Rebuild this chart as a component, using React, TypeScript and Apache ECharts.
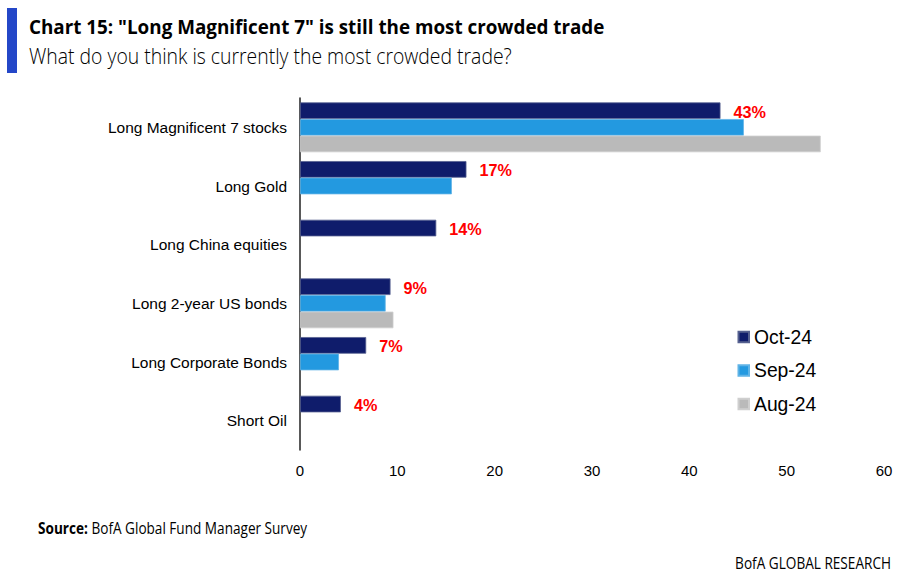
import React, { useEffect, useRef } from "react";
import * as echarts from "echarts";

// ---- data ----
const categories = [
  "Long Magnificent 7 stocks",
  "Long Gold",
  "Long China equities",
  "Long 2-year US bonds",
  "Long Corporate Bonds",
  "Short Oil",
];
const seriesNames = ["Oct-24", "Sep-24", "Aug-24"];
const oct24 = [43.2, 17.1, 14.0, 9.3, 6.8, 4.2];
const sep24 = [45.6, 15.6, null, 8.8, 4.0, null];
const aug24 = [53.5, null, null, 9.6, null, null];
const xMin = 0;
const xMax = 60;
const xInterval = 10;

const TITLE = 'Chart 15: "Long Magnificent 7" is still the most crowded trade';
const SUBTITLE = "What do you think is currently the most crowded trade?";
const SOURCE_BOLD = "Source:";
const SOURCE_TEXT = " BofA Global Fund Manager Survey";
const FOOTER = "BofA GLOBAL RESEARCH";

const NARROW = "'Liberation Sans Narrow', 'Arial Narrow', 'Liberation Sans', Arial, sans-serif";
const SANS = "'Liberation Sans', Arial, sans-serif";
const OPEN = "'Open Sans', 'Noto Sans', sans-serif";

function textWidth(text: string, font: string): number {
  const c = document.createElement("canvas").getContext("2d")!;
  c.font = font;
  return c.measureText(text).width;
}
function fitSize(text: string, weight: string, family: string, base: number, target: number) {
  return (base * target) / textWidth(text, `${weight} ${base}px ${family}`);
}

export default function App() {
  const ref = useRef<HTMLDivElement>(null);

  useEffect(() => {
    if (!ref.current) return;
    const chart = echarts.init(ref.current, null, { renderer: "svg" });

    const catSize = Math.min(18.7, fitSize(categories[0], "normal", NARROW, 18.7, 179));
    const valSize = fitSize("43%", "bold", NARROW, 19.5, 32.5);
    const tickSize = Math.min(17, fitSize("10", "normal", NARROW, 17, 16.7));
    const legSize = fitSize("Oct-24", "normal", SANS, 19, 58);

    const titleSize = 20;
    const titleScale = 576 / textWidth(TITLE, `bold ${titleSize}px ${OPEN}`);
    const subSize = 21.5;
    const subScale = 483 / textWidth(SUBTITLE, `300 ${subSize}px ${OPEN}`);
    const srcSize = 16;
    const srcScale =
      269.5 /
      (textWidth(SOURCE_BOLD, `bold ${srcSize}px ${OPEN}`) +
        textWidth(SOURCE_TEXT, `normal ${srcSize}px ${OPEN}`));
    const footSize = 17;
    const footScale = 156 / textWidth(FOOTER, `normal ${footSize}px ${OPEN}`);

    const colors = ["#0F1C6B", "#2399E0", "#BABABA"];
    const borders = ["#55608f", "#5fb3e6", "#cfcfcf"];
    const datasets = [oct24, sep24, aug24];

    chart.setOption({
      animation: false,
      textStyle: { fontFamily: SANS },
      grid: { left: 300, right: 25, top: 98, bottom: 128, containLabel: false },
      legend: {
        orient: "vertical",
        left: 737.5,
        top: 327.5,
        padding: 0,
        itemWidth: 10.5,
        itemHeight: 10.5,
        itemGap: 14.5,
        icon: "rect",
        data: seriesNames,
        textStyle: { fontSize: legSize, color: "#000", fontFamily: SANS },
      },
      xAxis: {
        type: "value",
        min: xMin,
        max: xMax,
        interval: xInterval,
        axisLine: { show: false },
        axisTick: { show: false },
        splitLine: { show: false },
        axisLabel: { fontSize: tickSize, color: "#000", fontFamily: NARROW, margin: 13 },
      },
      yAxis: {
        type: "category",
        inverse: true,
        data: categories,
        axisLine: { show: true, lineStyle: { color: "#222", width: 1.5 } },
        axisTick: { show: false },
        axisLabel: { fontSize: catSize, color: "#000", fontFamily: NARROW, margin: 13 },
      },
      series: seriesNames.map((name, i) => ({
        name,
        type: "bar",
        data: datasets[i],
        barGap: "0%",
        barCategoryGap: "15%",
        itemStyle: { color: colors[i], borderColor: borders[i], borderWidth: 0.8 },
        label:
          i === 0
            ? {
                show: true,
                position: "right",
                distance: 13,
                offset: [0, 1],
                color: "#FF0000",
                fontWeight: "bold",
                fontSize: valSize,
                fontFamily: NARROW,
                formatter: (p: any) => `${Math.round(p.value)}%`,
              }
            : { show: false },
      })),
      graphic: [
        {
          type: "rect",
          silent: true,
          shape: { x: 7, y: 8, width: 10, height: 65 },
          style: { fill: "#2447C8" },
        },
        {
          type: "text",
          x: 29,
          y: 34 - 0.388 * titleSize,
          scaleX: titleScale,
          style: {
            text: TITLE,
            fontSize: titleSize,
            fontWeight: "bold",
            fontFamily: OPEN,
            fill: "#000",
            align: "left",
            verticalAlign: "middle",
          },
        },
        {
          type: "text",
          x: 29,
          y: 64 - 0.388 * subSize,
          scaleX: subScale,
          style: {
            text: SUBTITLE,
            fontSize: subSize,
            fontWeight: 300,
            fontFamily: OPEN,
            fill: "#000",
            align: "left",
            verticalAlign: "middle",
          },
        },
        {
          type: "text",
          x: 38,
          y: 533.3 - 0.388 * srcSize,
          scaleX: srcScale,
          style: {
            text: `{b|${SOURCE_BOLD}}{r|${SOURCE_TEXT}}`,
            fill: "#000",
            align: "left",
            verticalAlign: "middle",
            rich: {
              b: { fontSize: srcSize, fontWeight: "bold", fontFamily: OPEN, fill: "#000" },
              r: { fontSize: srcSize, fontWeight: "normal", fontFamily: OPEN, fill: "#000" },
            },
          },
        },
        {
          type: "text",
          x: 891,
          y: 570 - 0.388 * footSize,
          scaleX: footScale,
          style: {
            text: FOOTER,
            fontSize: footSize,
            fontFamily: OPEN,
            fill: "#000",
            align: "right",
            verticalAlign: "middle",
          },
        },
      ],
    });

    return () => chart.dispose();
  }, []);

  return (
    <div
      ref={ref}
      style={{ position: "fixed", left: 0, top: 0, width: 909, height: 578, background: "#fff" }}
    />
  );
}
